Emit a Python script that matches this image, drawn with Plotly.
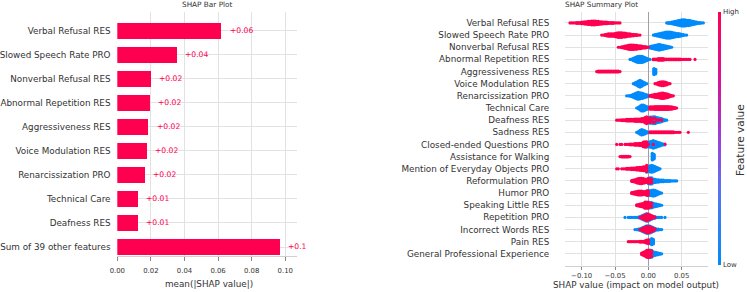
import plotly.graph_objects as go

W, H = 747, 292

# ---------------- Bar plot data ----------------
bar_features = [
    "Verbal Refusal RES", "Slowed Speech Rate PRO", "Nonverbal Refusal RES",
    "Abnormal Repetition RES", "Aggressiveness RES", "Voice Modulation RES",
    "Renarcissization PRO", "Technical Care", "Deafness RES", "Sum of 39 other features",
]
bar_values = [0.0621, 0.0355, 0.0200, 0.0195, 0.0187, 0.0177, 0.0165, 0.0125, 0.0125, 0.0968]
bar_labels = ["+0.06", "+0.04", "+0.02", "+0.02", "+0.02", "+0.02", "+0.02", "+0.01", "+0.01", "+0.1"]
bar_ticks = [0.0, 0.02, 0.04, 0.06, 0.08, 0.10]

# ---------------- Summary (beeswarm) data ----------------
summary_features = [
    "Verbal Refusal RES", "Slowed Speech Rate PRO", "Nonverbal Refusal RES",
    "Abnormal Repetition RES", "Aggressiveness RES", "Voice Modulation RES",
    "Renarcissization PRO", "Technical Care", "Deafness RES", "Sadness RES",
    "Closed-ended Questions PRO", "Assistance for Walking",
    "Mention of Everyday Objects PRO", "Reformulation PRO", "Humor PRO",
    "Speaking Little RES", "Repetition PRO", "Incorrect Words RES", "Pain RES",
    "General Professional Experience",
]
bin_width = 0.0025
# high feature value (red): first bin centre and number of dots per bin
high_start = [-0.1175, -0.07, -0.045, 0.0075, -0.0775, 0.01, 0.0025, 0.0025, -0.0475, 0.0025,
              -0.0475, -0.0425, -0.0475, -0.025, -0.025, -0.0175, -0.0125, -0.0125, -0.03, -0.01]
high_counts = [
    [1,1,1,1,2,2,2,3,3,4,4,5,5,6,6,6,5,5,4,4,3,3,3,2,2,2,2,1,1,1,1],
    [1,1,2,3,4,4,4,4,5,6,7,7,7,6,6,5,4,4,3,3,2,2,1,1],
    [1,1,2,3,4,5,6,7,7,7,6,6,5,5,4,3,3,2,1],
    [2,2,2,3,3,3,3,2,2,2,2,2,2,2,2,2,2,1,1,1,1,1,1,0,0,1],
    [1,2,2,2,2,2,2,2,2,2,2,2,2,2,1],
    [1,2,4,5,6,6,5,4,2,1],
    [2,3,4,5,5,6,7,8,8,7,6,5,3,2,1],
    [4,4,4,5,5,5,5,5,5,5,5,5,4,4,3,2,1],
    [1,1,1,2,2,2,3,3,3,3,3,4,4,4,4,5,5,5,6,3,3,2,2,2,1,1,1,1],
    [2,2,2,2,2,2,2,2,2,2,2,2,2,2,2,1,1,1,1,0,0,0,0,1],
    [1,0,1,1,0,1,1,1,2,2,2,3,3,3,4,4,5,5,4,1,0,0,1,0,0,0,0,0,0,1],
    [1,2,2,2,2,2,1],
    [1,1,0,1,1,1,2,2,2,3,3,3,4,4,5,5,6,6,5],
    [2,3,4,6,7,8,8,7,6,5,4,3,2],
    [2,3,4,5,6,6,6,5,5,4,3],
    [2,3,4,5,6,7,6,5,3,2],
    [1,2,3,4,5,5,4,3,2,1],
    [1,2,3,4,5,5,4,3,2,1],
    [1,1,1,1,1,1,1,2,2,2,3,5,6],
    [3,5,7,8,7,5,3],
]
# low feature value (blue)
low_start = [0.0275, 0.0075, 0.0025, -0.0275, 0.0085, -0.0225, -0.0325, -0.0175, -0.005, -0.0175,
             -0.0075, 0.006, -0.0025, 0.0, -0.0025, -0.005, -0.035, -0.02, 0.0025, -0.0025]
low_counts = [
    [1,2,2,3,4,5,6,7,8,9,9,9,8,8,7,6,5,4,3,2,2,1,1],
    [1,2,3,4,5,6,7,8,9,9,9,8,7,6,5,5,4,3,2,1,1],
    [3,4,5,6,7,8,8,7,6,5,4,3,2,1],
    [1,2,4,6,8,9,9,9,8,6,4,2,1],
    [9,7],
    [1,3,5,8,10,8,5,3,1],
    [1,1,2,3,5,7,9,10,9,8,7,5,4,3],
    [1,3,6,9,9,7,5,3],
    [3,4,5,6,7,8,8,7,6,5,4,3,2,1],
    [1,3,6,8,7,5,3,1],
    [2,3,4,6,8,9,10,9,8,6,5,3,2,1],
    [10,7],
    [5,7,9,10,9,7,5,3,1],
    [4,6,7,6,5,4,4,3,3,3,2,2,2,2,1,1,1,1],
    [3,5,7,8,9,8,6,4,2,1],
    [2,3,4,5,6,6,5,4,3,2,1],
    [1,0,1,1,1,1,1,1,2,2,3,4,5,6,5,4,3,2,2,1,1,1,1,0,1],
    [1,1,2,2,3,4,5,6,6,6,5,4,3,2,2,1,1],
    [6,9,7],
    [2,4,6,7,6,5,4,3,2,1],
]
summary_ticks = [-0.10, -0.05, 0.0, 0.05]

RED = "#ff0051"
BLUE = "#008bfb"
FONT = "DejaVu Sans"
TXT = "#333333"

LAB = 8.8       # feature label / axis title size
TICK = 6.9      # tick label size
TITLE = 7.3     # panel title size

# ---------------- build beeswarm points ----------------
DY = 0.062
sx, sy, sc = [], [], []
n_feat = len(summary_features)
for i in range(n_feat):
    row = n_feat - 1 - i
    cols = {}
    for start, counts, val in ((low_start[i], low_counts[i], 0.0), (high_start[i], high_counts[i], 1.0)):
        for k, c in enumerate(counts):
            key = round(start + k * bin_width, 5)
            cols.setdefault(key, [0, 0])
            cols[key][int(val)] += c
    for x, (nb, nr) in cols.items():
        tot = nb + nr
        if tot == 0:
            continue
        items = [((j + 0.5) / nb, 0.0) for j in range(nb)] + [((j + 0.5) / nr, 1.0) for j in range(nr)]
        items.sort()
        for j, (_, v) in enumerate(items):
            sx.append(x)
            sy.append(row + (j - (tot - 1) / 2) * DY)
            sc.append(v)

order = sorted(range(len(sx)), key=lambda k: sc[k])
sx = [sx[k] for k in order]
sy = [sy[k] for k in order]
sc = [sc[k] for k in order]

fig = go.Figure()

n_bar = len(bar_features)
bar_pos = [n_bar - 1 - i for i in range(n_bar)]
fig.add_trace(go.Bar(
    x=bar_values, y=bar_pos, orientation="h", width=0.66,
    marker=dict(color=RED, line=dict(width=0)), xaxis="x", yaxis="y",
    showlegend=False, hoverinfo="skip",
))

colorscale = [[0.0, BLUE], [0.3, "#5a72f2"], [0.5, "#9b3fd6"], [0.72, "#d5149a"], [1.0, RED]]
fig.add_trace(go.Scatter(
    x=sx, y=sy, mode="markers", xaxis="x2", yaxis="y2", showlegend=False, hoverinfo="skip",
    marker=dict(
        size=3.2, color=sc, colorscale=colorscale, cmin=0, cmax=1, line=dict(width=0),
        showscale=True,
        colorbar=dict(
            x=718 / W, xanchor="left", xpad=0, y=1 - 138.5 / H, yanchor="middle", ypad=0,
            len=253 / H, lenmode="fraction", thickness=3, outlinewidth=0,
            tickvals=[0, 1], ticktext=["Low", "High"], ticks="", ticklen=0,
            tickfont=dict(family=FONT, size=7, color=TXT),
        ),
    ),
))

grid = "#e2e2e2"
fig.update_layout(
    width=W, height=H, autosize=False,
    margin=dict(l=0, r=0, t=0, b=0, autoexpand=False),
    paper_bgcolor="white", plot_bgcolor="white",
    font=dict(family=FONT, color=TXT),
    bargap=0,
    xaxis=dict(
        domain=[117.3 / W, 297 / W], range=[0, 0.107], tickvals=bar_ticks,
        ticktext=["%.2f" % t for t in bar_ticks], automargin=False,
        showgrid=True, gridcolor=grid, gridwidth=1, zeroline=False,
        showline=True, linecolor="#d0d0d0", linewidth=1,
        ticks="outside", ticklen=4, tickcolor="#888888", ticklabelstandoff=4,
        tickfont=dict(family=FONT, size=TICK, color=TXT), anchor="y",
    ),
    yaxis=dict(
        domain=[1 - 256 / H, 1 - 12 / H], range=[-0.375, 9.79], tickvals=bar_pos,
        ticktext=bar_features, showgrid=True, gridcolor=grid, gridwidth=1, automargin=False,
        zeroline=False, showline=False, ticks="outside", ticklen=4,
        tickcolor="rgba(0,0,0,0)", tickfont=dict(family=FONT, size=LAB, color=TXT), anchor="x",
    ),
    xaxis2=dict(
        domain=[565 / W, 708 / W], range=[-0.125, 0.0895], tickvals=summary_ticks,
        ticktext=["%.2f" % t if t >= 0 else "\u2212%.2f" % (-t) for t in summary_ticks],
        showgrid=True, gridcolor=grid, gridwidth=1, automargin=False,
        zeroline=True, zerolinecolor="#a0a0a0", zerolinewidth=1,
        showline=True, linecolor="#d0d0d0", linewidth=1,
        ticks="outside", ticklen=3, tickcolor="#888888",
        tickfont=dict(family=FONT, size=TICK, color=TXT), anchor="y2",
    ),
    yaxis2=dict(
        domain=[1 - 266 / H, 1 - 12 / H], range=[-1, 19.9], tickvals=list(range(n_feat)),
        ticktext=list(reversed(summary_features)), showgrid=True, gridcolor=grid, gridwidth=1,
        zeroline=False, showline=False, ticks="outside", ticklen=13, automargin=False,
        tickcolor="rgba(0,0,0,0)", tickfont=dict(family=FONT, size=LAB, color=TXT), anchor="x2",
    ),
)

ann = []
for v, p, lab in zip(bar_values, bar_pos, bar_labels):
    ann.append(dict(x=v, y=p, xref="x", yref="y", text=lab, showarrow=False,
                    xanchor="left", yanchor="middle", xshift=6,
                    font=dict(family=FONT, size=7.6, color=RED)))
ann += [
    dict(x=207 / W, y=1 - 5 / H, xref="paper", yref="paper", text="SHAP Bar Plot", showarrow=False,
         xanchor="center", yanchor="middle", font=dict(family=FONT, size=TITLE, color=TXT)),
    dict(x=601 / W, y=1 - 5 / H, xref="paper", yref="paper", text="SHAP Summary Plot", showarrow=False,
         xanchor="center", yanchor="middle", font=dict(family=FONT, size=TITLE, color=TXT)),
    dict(x=209 / W, y=1 - 283.5 / H, xref="paper", yref="paper", text="mean(|SHAP value|)", showarrow=False,
         xanchor="center", yanchor="middle", font=dict(family=FONT, size=LAB, color=TXT)),
    dict(x=636 / W, y=1 - 284.5 / H, xref="paper", yref="paper", text="SHAP value (impact on model output)",
         showarrow=False, xanchor="center", yanchor="middle", font=dict(family=FONT, size=LAB, color=TXT)),
    dict(x=740 / W, y=1 - 140 / H, xref="paper", yref="paper", text="Feature value", showarrow=False,
         textangle=-90, xanchor="center", yanchor="middle", font=dict(family=FONT, size=10.5, color=TXT)),
]
fig.update_layout(annotations=ann)

fig.write_html("out.html")
